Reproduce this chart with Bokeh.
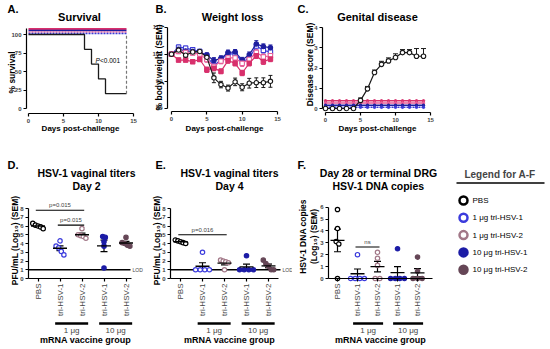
import math
import numpy as np
from bokeh.plotting import figure
from bokeh.models import Range1d, FixedTicker, Label, Whisker, TeeHead, ColumnDataSource
from bokeh.layouts import row, column
from bokeh.embed import file_html
from bokeh.resources import INLINE
from bokeh.core.properties import value
from bokeh.transform import dodge

FONT = "Liberation Sans"

# ---------------- data ----------------
days = [0, 1, 2, 3, 4, 5, 6, 7, 8, 9, 10, 11, 12, 13, 14]
groups = ["PBS", "1 μg tri-HSV-1", "1 μg tri-HSV-2", "10 μg tri-HSV-1", "10 μg tri-HSV-2"]
cat_labels = ["PBS", "tri-HSV-1", "tri-HSV-2", "tri-HSV-1", "tri-HSV-2"]
dose_labels = ["1 μg", "10 μg"]
dose_members = [[2, 3], [4, 5]]

surv_pbs = [100, 100, 100, 100, 100, 100, 100, 100, 80, 60, 40, 20, 20, 20, 20]
surv_vaccine = [100, 100, 100, 100, 100, 100, 100, 100, 100, 100, 100, 100, 100, 100, 100]

weight_pbs = [100, 101.5, 99.6, 100.8, 101.0, 98.8, 91.2, 88.7, 87.4, 89.7, 87.7, 89.2, 89.4, 89.4, 89.9]
weight_pbs_sem = [0, 0.7, 0.9, 0.7, 0.7, 1.2, 1.8, 1.2, 1.1, 1.4, 1.3, 1.8, 1.8, 1.8, 2.2]
weight_1ug_t1 = [100, 102.6, 102.2, 101.6, 101.0, 99.4, 95.6, 98.0, 100.0, 100.2, 97.2, 98.4, 103.0, 101.4, 100.8]
weight_1ug_t1_sem = [0, 0.8, 0.8, 0.7, 0.8, 1.0, 1.2, 1.0, 0.9, 1.0, 1.1, 1.0, 1.2, 1.0, 1.1]
weight_1ug_t2 = [100, 101.0, 100.6, 100.4, 100.0, 98.0, 95.4, 97.4, 98.6, 98.6, 96.6, 98.0, 100.6, 99.0, 99.4]
weight_1ug_t2_sem = [0, 0.8, 0.8, 0.8, 0.8, 1.0, 1.2, 1.0, 1.0, 1.0, 1.2, 1.0, 1.2, 1.0, 1.0]
weight_10ug_t1 = [100, 101.8, 101.2, 101.0, 100.6, 99.6, 97.6, 98.4, 100.6, 100.8, 97.8, 99.8, 103.8, 102.8, 102.4]
weight_10ug_t1_sem = [0, 0.7, 0.7, 0.7, 0.7, 0.9, 1.1, 1.0, 0.9, 0.9, 1.0, 1.0, 1.2, 1.0, 1.0]
weight_10ug_t2 = [100, 97.8, 97.8, 97.2, 98.0, 94.2, 94.8, 93.6, 97.6, 96.6, 93.0, 96.6, 99.4, 97.2, 98.2]
weight_10ug_t2_sem = [0, 0.7, 0.7, 0.7, 0.7, 1.0, 1.0, 0.9, 1.0, 1.0, 1.0, 1.0, 1.0, 1.0, 1.0]

disease_pbs = [0, 0, 0, 0, 0, 0.4, 0.97, 1.78, 2.18, 2.35, 2.52, 2.76, 2.76, 2.58, 2.58]
disease_pbs_sem = [0, 0, 0, 0, 0, 0.12, 0.12, 0.12, 0.15, 0.15, 0.18, 0.15, 0.15, 0.38, 0.38]
disease_vaccine = [0, 0, 0, 0, 0, 0, 0, 0, 0, 0, 0, 0, 0, 0, 0]

titer_d2 = [
    [6.3, 6.1, 6.0, 5.9, 5.7],
    [4.3, 3.7, 3.5, 3.1, 2.7],
    [5.7, 5.0, 4.9, 4.8, 4.6],
    [4.8, 4.7, 4.2, 3.7, 1.2],
    [4.7, 4.1, 4.0, 3.8, 3.7],
]
titer_d4 = [
    [4.4, 4.3, 4.2, 4.1, 4.0],
    [3.0, 1.0, 1.0, 1.0, 1.0],
    [2.1, 2.0, 1.9, 1.8, 1.0],
    [2.6, 1.0, 1.0, 1.0, 1.0],
    [2.1, 1.7, 1.4, 1.0, 1.0],
]
drg_dna = [
    [5.8, 4.2, 3.1, 2.9, 0.0],
    [2.0, 0.0, 0.0, 0.0, 0.0],
    [2.2, 1.7, 1.1, 0.0, 0.0],
    [2.5, 0.0, 0.0, 0.0, 0.0],
    [1.8, 0.6, 0.0, 0.0, 0.0],
]
LOD = 1.0
brackets_d2 = [(1, 3, 7.8, "p=0.015"), (2, 3, 6.1, "p=0.015")]
brackets_d4 = [(1, 3, 5.0, "p=0.016")]
brackets_drg = [(2, 3, 2.65, "ns")]

# ---------------- styles ----------------
LINE_STYLE = {
    "PBS": ("#1a1a1a", "circle", "white"),
    "1 μg tri-HSV-1": ("#3a3ad6", "square", "white"),
    "1 μg tri-HSV-2": ("#e8609a", "square", "white"),
    "10 μg tri-HSV-1": ("#1e1e9e", "circle", "#1e1e9e"),
    "10 μg tri-HSV-2": ("#d8306c", "square", "#d8306c"),
}
DOT_STYLE = {
    "PBS": ("black", "white"),
    "1 μg tri-HSV-1": ("#3b3bdc", "white"),
    "1 μg tri-HSV-2": ("#a27888", "white"),
    "10 μg tri-HSV-1": ("#1c1ca6", "#1c1ca6"),
    "10 μg tri-HSV-2": ("#654656", "#654656"),
}


def lin(pa, va, pb, vb):
    k = (vb - va) / (pb - pa)
    return lambda px: va + (px - pa) * k


def make_panel(fig_box, axis_px, xmap, ymap, xbounds, ybounds, xticks, yticks):
    """Whole figure is the frame; axes are pinned at fixed data locations."""
    fx0, fy0, fw, fh = fig_box
    ax_x, ax_y = axis_px
    X = lin(*xmap)
    Y = lin(*ymap)
    p = figure(width=fw, height=fh,
               x_range=Range1d(X(fx0), X(fx0 + fw)), y_range=Range1d(Y(fy0 + fh), Y(fy0)),
               min_border_left=0, min_border_right=0, min_border_top=0, min_border_bottom=0,
               output_backend="svg", toolbar_location=None)
    p.outline_line_color = None
    p.grid.visible = False
    p.background_fill_color = "white"
    p.border_fill_color = "white"
    p.xaxis.fixed_location = Y(ax_y)
    p.yaxis.fixed_location = X(ax_x)
    p.xaxis.bounds = xbounds
    p.yaxis.bounds = ybounds
    p.xaxis.ticker = FixedTicker(ticks=xticks)
    p.yaxis.ticker = FixedTicker(ticks=yticks)
    for ax in (p.xaxis[0], p.yaxis[0]):
        ax.axis_line_width = 1.2
        ax.axis_line_color = "black"
        ax.major_tick_line_color = "black"
        ax.major_tick_line_width = 1.2
        ax.major_tick_out = 3
        ax.major_tick_in = 0
        ax.minor_tick_line_color = None
        ax.major_label_text_font = FONT
        ax.major_label_text_font_size = "6px"
        ax.major_label_text_font_style = "bold"
        ax.major_label_standoff = 2
    return p, X, Y


def txt(P, x, y, text, size, style="normal", align="center", angle=0.0, color="black"):
    p, X, Y = P
    p.add_layout(Label(x=X(x), y=Y(y), text=text, text_font=FONT,
                       text_font_size=f"{size}px", text_font_style=style,
                       text_align=align, text_baseline="middle", angle=angle,
                       text_color=color))


TOP_H = 155
BOT_Y, BOT_H = 155, 192

# ---------------- A: survival ----------------
PA = make_panel((0, 0, 150, TOP_H), (26, 113), (28, 0, 133, 15), (108, 0, 34, 100),
                (0, 15), (0, 108), [0, 5, 10, 15], [0, 25, 50, 75, 100])
pa, XA, YA = PA
src_surv = ColumnDataSource(dict(d=days, pbs=surv_pbs, vac=surv_vaccine))
A_LINES = [("10 μg tri-HSV-2", 7.5, "solid", 2.0), ("10 μg tri-HSV-1", 5.5, "solid", 1.5),
           ("1 μg tri-HSV-2", 3.5, "2 1", 1.5), ("1 μg tri-HSV-1", 1.5, "2 1", 1.5)]
for g, off, dash, lw in A_LINES:
    pa.line(x="d", y=dodge("vac", off), source=src_surv, line_color=LINE_STYLE[g][0],
            line_width=lw, line_dash=dash)
pa.step(x="d", y="pbs", source=src_surv, mode="after", line_color="#1a1a1a", line_width=1.3)
pa.segment(x0=[days[-1]], y0=[surv_pbs[-1]], x1=[days[-1]], y1=[surv_vaccine[-1]],
           line_color="#777777", line_dash="3 2", line_width=1.2)
txt(PA, 7, 8, "A.", 11, "bold", "left")
txt(PA, 79, 16, "Survival", 11, "bold")
txt(PA, 11, 72, "% survival", 8.5, "bold", angle=math.pi / 2)
txt(PA, 80, 128, "Days post-challenge", 8, "bold")
txt(PA, 95, 60, "P", 6.5, "italic", "left")
txt(PA, 99.5, 60, "<0.001", 6.5, "normal", "left")

# ---------------- B: weight loss ----------------
PB = make_panel((150, 0, 142, TOP_H), (167, 111), (171, 0, 277, 15), (107.5, 80, 26.7, 110),
                (0, 15), (80, 110), [0, 5, 10, 15], [80, 90, 100, 110])
pb, XB, YB = PB
weights = [(groups[1], weight_1ug_t1, weight_1ug_t1_sem), (groups[3], weight_10ug_t1, weight_10ug_t1_sem),
           (groups[2], weight_1ug_t2, weight_1ug_t2_sem), (groups[4], weight_10ug_t2, weight_10ug_t2_sem),
           (groups[0], weight_pbs, weight_pbs_sem)]
for g, w, s in weights:
    col, mk, fill = LINE_STYLE[g]
    w = np.array(w); s = np.array(s)
    src = ColumnDataSource(dict(d=days, w=w, up=w + s, lo=w - s))
    pb.add_layout(Whisker(source=src, base="d", upper="up", lower="lo", line_color=col, line_width=1,
                          upper_head=TeeHead(size=4, line_color=col, line_width=1),
                          lower_head=TeeHead(size=4, line_color=col, line_width=1)))
    pb.line(x="d", y="w", source=src, line_color=col, line_width=1.2)
    pb.scatter(x="d", y="w", source=src, marker=mk, size=4.4, line_color=col, fill_color=fill, line_width=1.1)
txt(PB, 155, 8, "B.", 11, "bold", "left")
txt(PB, 232, 16, "Weight loss", 11, "bold")
txt(PB, 158, 67, "% body weight (SEM)", 8.5, "bold", angle=math.pi / 2)
txt(PB, 224, 128, "Days post-challenge", 8, "bold")

# ---------------- C: genital disease ----------------
PC = make_panel((292, 0, 158, TOP_H), (322, 112), (325, 0, 430, 15), (108, 0, 27, 4),
                (0, 15), (0, 4), [0, 5, 10, 15], [0, 1, 2, 3, 4])
pc, XC, YC = PC
dp = np.array(disease_pbs); ds = np.array(disease_pbs_sem)
src_dis = ColumnDataSource(dict(d=days, m=dp, up=dp + ds, vac=disease_vaccine))
C_LINES = [("10 μg tri-HSV-2", 0.38, "solid"), ("1 μg tri-HSV-2", 0.27, "solid"),
           ("10 μg tri-HSV-1", 0.16, "solid"), ("1 μg tri-HSV-1", 0.06, "2 1")]
for g, off, dash in C_LINES:
    col = LINE_STYLE[g][0]
    pc.line(x="d", y=dodge("vac", off), source=src_dis, line_color=col, line_width=1.4, line_dash=dash)
    pc.scatter(x="d", y=dodge("vac", off), source=src_dis, size=2.5, line_color=col, fill_color=col)
pc.add_layout(Whisker(source=src_dis, base="d", upper="up", lower="m", line_color="#1a1a1a", line_width=1,
                      upper_head=TeeHead(size=5, line_color="#1a1a1a", line_width=1), lower_head=None))
pc.line(x="d", y="m", source=src_dis, line_color="#1a1a1a", line_width=1.2)
pc.scatter(x="d", y="m", source=src_dis, marker="circle", size=4.5, line_color="#1a1a1a",
           fill_color="white", line_width=1.1)
txt(PC, 297, 8, "C.", 11, "bold", "left")
txt(PC, 377, 16, "Genital disease", 11, "bold")
txt(PC, 309, 64, "Disease score (SEM)", 8.5, "bold", angle=math.pi / 2)
txt(PC, 377, 128, "Days post-challenge", 8, "bold")


# ---------------- D/E/F: scatter panels ----------------
def swarm(vals, px_y):
    n = len(vals)
    order = sorted(range(n), key=lambda k: -vals[k])
    clusters = []
    for k in order:
        if clusters and abs(vals[clusters[-1][-1]] - vals[k]) * px_y < 4:
            clusters[-1].append(k)
        else:
            clusters.append([k])
    offs = [0.0] * n
    for cl in clusters:
        m = len(cl)
        same = all(vals[k] == vals[cl[0]] for k in cl)
        step = 4.6 if same else 2.6
        for j, k in enumerate(cl):
            offs[k] = (j - (m - 1) / 2) * step
    return offs


def dot_panel(P, data, px_x, brackets, lod, lod_px):
    p, X, Y = P
    px_y = abs(1.0 / (Y(1) - Y(0)))
    cats = list(range(1, len(groups) + 1))
    p.xaxis.major_label_overrides = {c: lab for c, lab in zip(cats, cat_labels)}
    p.xaxis.major_label_orientation = math.pi / 2
    p.xaxis.major_label_text_font_size = "8px"
    p.xaxis.major_label_text_font_style = "normal"
    if lod is not None:
        x_end = X(lod_px - 3)
        p.segment(x0=[p.yaxis[0].fixed_location], y0=[lod], x1=[x_end], y1=[lod],
                  line_color="black", line_width=1.6)
        p.add_layout(Label(x=x_end, y=lod, x_offset=2, text="LOD", text_font=FONT, text_font_size="5px",
                           text_align="left", text_baseline="middle"))
    means, sems = [], []
    for c, g, vals in zip(cats, groups, data):
        v = np.array(vals, dtype=float)
        means.append(v.mean())
        sems.append(v.std(ddof=1) / math.sqrt(len(v)))
        offs = swarm(vals, px_y)
        line, fill = DOT_STYLE[g]
        p.scatter([c + o / px_x for o in offs], vals, marker="circle", size=4.4,
                  line_color=line, fill_color=fill, line_width=1.2)
    means = np.array(means); sems = np.array(sems)
    src = ColumnDataSource(dict(c=cats, m=means, up=means + sems, lo=means - sems))
    p.add_layout(Whisker(source=src, base="c", upper="up", lower="lo", line_color="black", line_width=1.2,
                         upper_head=TeeHead(size=7, line_color="black", line_width=1.2),
                         lower_head=TeeHead(size=7, line_color="black", line_width=1.2)))
    p.scatter(x="c", y="m", source=src, marker="dash", size=14, line_color="black", line_width=1.3)
    for a, b, h, lab in brackets:
        p.segment(x0=[a - 0.1], y0=[h], x1=[b + 0.1], y1=[h], line_color="black", line_width=1.1)
        p.add_layout(Label(x=(a + b) / 2, y=h, y_offset=5, text=lab, text_font=FONT, text_font_size="6px",
                           text_align="center", text_baseline="middle"))
    yb = Y(323)
    for lab, mem in zip(dose_labels, dose_members):
        x0, x1 = min(mem) - 0.22, max(mem) + 0.28
        p.segment(x0=[x0], y0=[yb], x1=[x1], y1=[yb], line_color="black", line_width=2.5)
        p.add_layout(Label(x=(x0 + x1) / 2, y=Y(329.5), text=lab, text_font=FONT, text_font_size="8px",
                           text_align="center", text_baseline="middle"))


yt8 = [0, 1, 2, 3, 4, 5, 6, 7, 8]
PD = make_panel((0, BOT_Y, 150, BOT_H), (28, 278), (37.5, 1, 125.5, 5), (278, 0, 208, 8),
                (0.55, 5.25), (0, 8), [1, 2, 3, 4, 5], yt8)
dot_panel(PD, titer_d2, 22, brackets_d2, LOD, 133)
txt(PD, 7, 164, "D.", 11, "bold", "left")
txt(PD, 86, 172, "HSV-1 vaginal titers", 10.5, "bold")
txt(PD, 86, 185, "Day 2", 10.5, "bold")
txt(PD, 14, 240, "PFU/mL (Log₁₀) (SEM)", 8.5, "bold", angle=math.pi / 2)
txt(PD, 85, 339, "mRNA vaccine group", 9, "bold")

PE = make_panel((150, BOT_Y, 142, BOT_H), (170, 278), (180, 1, 268, 5), (278, 0, 208, 8),
                (0.55, 5.45), (0, 8), [1, 2, 3, 4, 5], yt8)
dot_panel(PE, titer_d4, 22, brackets_d4, LOD, 283)
txt(PE, 155, 164, "E.", 11, "bold", "left")
txt(PE, 229, 172, "HSV-1 vaginal titers", 10.5, "bold")
txt(PE, 229, 185, "Day 4", 10.5, "bold")
txt(PE, 156, 240, "PFU/mL (Log₁₀) (SEM)", 8.5, "bold", angle=math.pi / 2)
txt(PE, 229, 339, "mRNA vaccine group", 9, "bold")

PF = make_panel((292, BOT_Y, 148, BOT_H), (328, 278), (337, 1, 417, 5), (278, 0, 206.6, 6),
                (0.55, 5.75), (0, 6), [1, 2, 3, 4, 5], [0, 1, 2, 3, 4, 5, 6])
dot_panel(PF, drg_dna, 20, brackets_drg, None, None)
txt(PF, 297, 164, "F.", 11, "bold", "left")
txt(PF, 378, 172, "Day 28 or terminal DRG", 10.5, "bold")
txt(PF, 378, 185, "HSV-1 DNA copies", 10.5, "bold")
txt(PF, 302, 236, "HSV-1 DNA copies", 8.5, "bold", angle=math.pi / 2)
txt(PF, 313, 236, "(Log₁₀) (SEM)", 8.5, "bold", angle=math.pi / 2)
txt(PF, 380, 339, "mRNA vaccine group", 9, "bold")

# ---------------- legend ----------------
LW = 108
XL = lin(440, 0, 542, 102)
YL = lin(200, 0, 269.2, 4)
pl = figure(width=LW, height=BOT_H, x_range=Range1d(XL(440), XL(440 + LW)),
            y_range=Range1d(YL(BOT_Y + BOT_H), YL(BOT_Y)),
            min_border_left=0, min_border_right=0, min_border_top=0, min_border_bottom=0,
            x_axis_location=None, y_axis_location=None,
            output_backend="svg", toolbar_location=None)
pl.outline_line_color = None
pl.grid.visible = False
leg_src = ColumnDataSource(dict(i=list(range(len(groups))), g=groups,
                                line=[DOT_STYLE[g][0] for g in groups],
                                fill=[DOT_STYLE[g][1] for g in groups]))
pl.scatter(x=XL(463), y="i", source=leg_src, marker="circle", size=8, line_color="line",
           fill_color="fill", line_width=2.5)
pl.text(x=XL(472), y="i", text="g", source=leg_src, text_font=value(FONT), text_font_size="8px",
        text_baseline="middle", text_align="left")
pl.add_layout(Label(x=XL(499.5), y=YL(174), text="Legend for A-F", text_font=FONT, text_font_size="10px",
                    text_font_style="bold", text_align="center", text_baseline="middle"))
pl.segment(x0=[XL(456)], y0=[YL(182.5)], x1=[XL(544)], y1=[YL(182.5)], line_color="black", line_width=1.5)

layout = column(row(PA[0], PB[0], PC[0]), row(PD[0], PE[0], PF[0], pl))
open("out.html", "w").write(file_html(layout, INLINE))
